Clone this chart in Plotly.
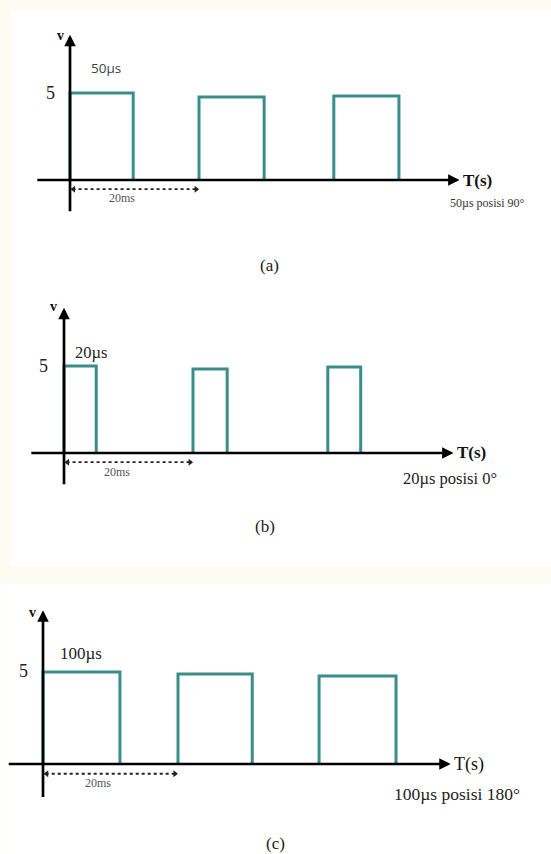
import plotly.graph_objects as go

# ---------------- data (ms / volts) ----------------
a_rise = [0.0, 20.0, 40.9]
a_fall = [9.8, 30.1, 51.0]
a_amp = [5.0, 4.77, 4.83]

b_rise = [0.0, 20.0, 40.9]
b_fall = [5.0, 25.3, 46.0]
b_amp = [5.0, 4.83, 4.94]

c_rise = [0.0, 20.0, 40.9]
c_fall = [11.4, 31.0, 52.3]
c_amp = [5.0, 4.89, 4.78]

period_ms = 20
v_tick = 5
pulse_labels = ["50\u00b5s", "20\u00b5s", "100\u00b5s"]
caption_labels = ["50\u00b5s posisi 90\u00b0", "20\u00b5s posisi 0\u00b0", "100\u00b5s posisi 180\u00b0"]
panel_tags = ["(a)", "(b)", "(c)"]

W, H = 551, 854
TEAL = "#3a8d8a"

# panel geometry (pixels): origin x, origin y, px per ms, px per volt, domain top, domain bottom
panels = [
    dict(ox=70, oy=180, sx=6.45, sy=17.4, top=0, bot=290,
         rise=a_rise, fall=a_fall, amp=a_amp),
    dict(ox=64, oy=453, sx=6.45, sy=17.4, top=290, bot=570,
         rise=b_rise, fall=b_fall, amp=b_amp),
    dict(ox=43, oy=764, sx=6.75, sy=18.4, top=570, bot=854,
         rise=c_rise, fall=c_fall, amp=c_amp),
]

fig = go.Figure()
annotations = []
shapes = []

# background boxes
shapes.append(dict(type="rect", xref="paper", yref="paper", x0=11 / W, x1=1, y0=1 - 567 / H, y1=1 - 10 / H,
                   fillcolor="white", line=dict(width=0), layer="below"))
shapes.append(dict(type="rect", xref="paper", yref="paper", x0=1 / W, x1=1, y0=0, y1=1 - 583 / H,
                   fillcolor="white", line=dict(width=0), layer="below"))

label_pos = [
    dict(v=(-1.55, 8.33), five=(-2.0, 5.0), pl=(5.6, 6.44), ms=(8.06, -1.03), cap=(64.8, -1.32), tag=(31.0, -4.9),
         plfont=dict(family="Open Sans, Liberation Sans", size=13.5, color="#404040"),
         capfont=dict(family="Liberation Serif", size=12, color="#333"), tsize=17, tbold=True),
    dict(v=(-1.7, 8.4), five=(-2.2, 5.0), pl=(4.2, 5.75), ms=(8.2, -1.09), cap=(59.8, -1.44), tag=(31.1, -4.25),
         plfont=dict(family="Liberation Serif", size=16.5, color="#222"),
         capfont=dict(family="Liberation Serif", size=16.5, color="#222"), tsize=17, tbold=True),
    dict(v=(-1.5, 8.26), five=(-1.9, 5.05), pl=(5.6, 5.98), ms=(8.15, -1.03), cap=(61.3, -1.63), tag=(34.4, -4.3),
         plfont=dict(family="Liberation Serif", size=17, color="#222"),
         capfont=dict(family="Liberation Serif", size=17.5, color="#222"), tsize=18, tbold=False),
]

for i, p in enumerate(panels):
    xa = "xaxis" if i == 0 else f"xaxis{i + 1}"
    ya = "yaxis" if i == 0 else f"yaxis{i + 1}"
    xr = "x" if i == 0 else f"x{i + 1}"
    yr = "y" if i == 0 else f"y{i + 1}"
    xrange = [(0 - p["ox"]) / p["sx"], (W - p["ox"]) / p["sx"]]
    yrange = [(p["oy"] - p["bot"]) / p["sy"], (p["oy"] - p["top"]) / p["sy"]]
    fig.update_layout(**{
        xa: dict(domain=[0, 1], range=xrange, visible=False, fixedrange=True, anchor=yr),
        ya: dict(domain=[1 - p["bot"] / H, 1 - p["top"] / H], range=yrange, visible=False,
                 fixedrange=True, anchor=xr),
    })

    # square wave
    xs, ys = [], []
    for r, f, a in zip(p["rise"], p["fall"], p["amp"]):
        xs += [r, r, f, f, None]
        ys += [0, a, a, 0, None]
    fig.add_trace(go.Scatter(x=xs, y=ys, mode="lines", xaxis=xr, yaxis=yr,
                             line=dict(color=TEAL, width=3), hoverinfo="skip", showlegend=False))

    # axes with arrows
    annotations.append(dict(x=60.4, y=0, ax=-5.3, ay=0, xref=xr, yref=yr, axref=xr, ayref=yr,
                            showarrow=True, arrowhead=2, arrowsize=0.85, arrowwidth=2.7, arrowcolor="black",
                            text=""))
    annotations.append(dict(x=0, y=8.35, ax=0, ay=-1.88, xref=xr, yref=yr, axref=xr, ayref=yr,
                            showarrow=True, arrowhead=2, arrowsize=0.85, arrowwidth=2.7, arrowcolor="black",
                            text=""))

    # dotted 20 ms arrow
    yd = -0.53
    fig.add_trace(go.Scatter(x=[0.4, period_ms - 0.3], y=[yd, yd], mode="lines", xaxis=xr, yaxis=yr,
                             line=dict(color="#222", width=1.8, dash="dot"), hoverinfo="skip", showlegend=False))
    fig.add_trace(go.Scatter(x=[0.55, period_ms - 0.45], y=[yd, yd], mode="markers", xaxis=xr, yaxis=yr,
                             marker=dict(symbol=["triangle-left", "triangle-right"], size=6, color="#222"),
                             hoverinfo="skip", showlegend=False))

    lp = label_pos[i]
    serif = "Liberation Serif"
    annotations += [
        dict(x=lp["v"][0], y=lp["v"][1], xref=xr, yref=yr, text="<b>v</b>", showarrow=False,
             font=dict(family=serif, size=14, color="#111")),
        dict(x=lp["five"][0], y=lp["five"][1], xref=xr, yref=yr, text=str(v_tick), showarrow=False,
             font=dict(family=serif, size=18, color="#222"), xanchor="right"),
        dict(x=lp["pl"][0], y=lp["pl"][1], xref=xr, yref=yr, text=pulse_labels[i], showarrow=False,
             font=lp["plfont"]),
        dict(x=lp["ms"][0], y=lp["ms"][1], xref=xr, yref=yr, text=f"{period_ms}ms", showarrow=False,
             font=dict(family=serif, size=12, color="#555")),
        dict(x=60.6, y=0, xref=xr, yref=yr, text="<b>T(s)</b>" if lp["tbold"] else "T(s)", showarrow=False,
             xanchor="left", font=dict(family=serif, size=lp["tsize"], color="#111")),
        dict(x=lp["cap"][0], y=lp["cap"][1], xref=xr, yref=yr, text=caption_labels[i], showarrow=False,
             font=lp["capfont"]),
        dict(x=lp["tag"][0], y=lp["tag"][1], xref=xr, yref=yr, text=panel_tags[i], showarrow=False,
             font=dict(family=serif, size=17, color="#222")),
    ]

fig.update_layout(width=W, height=H, margin=dict(l=0, r=0, t=0, b=0),
                  paper_bgcolor="#fdfcf2", plot_bgcolor="rgba(0,0,0,0)",
                  shapes=shapes, annotations=annotations, showlegend=False)

fig.write_html("out.html", config=dict(displayModeBar=False, staticPlot=True),
               post_script="document.body.style.margin='0';document.body.style.overflow='hidden';")
